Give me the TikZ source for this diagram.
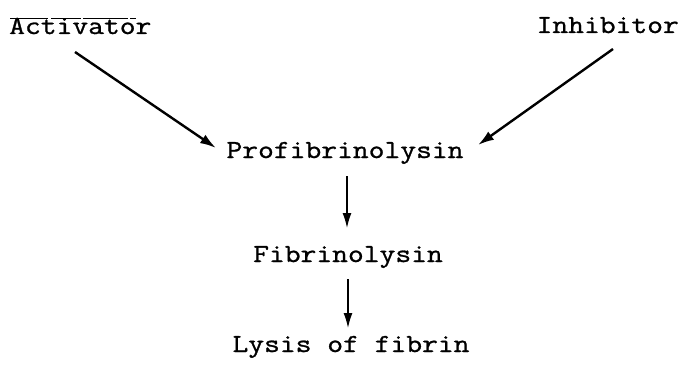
\documentclass[tikz,border=0pt]{standalone}
\usepackage{fontspec}
\setmonofont[FakeStretch=1.18,FakeBold=1]{Latin Modern Mono}
\usetikzlibrary{arrows.meta}
\begin{document}
\begin{tikzpicture}[x=1pt,y=1pt,
  lbl/.style={font=\ttfamily\fontsize{26}{28}\selectfont, inner sep=0pt},
  diag/.style={line width=2.4pt, -{Latex[length=16pt,width=10pt]}},
  vert/.style={line width=1.4pt, -{Latex[length=15pt,width=9pt]}}]
\useasboundingbox (0,0) rectangle (685,365);
\node[lbl, anchor=base west] (act) at (9,331) {Activator};
\node[lbl, anchor=base east] (inh) at (679,332) {Inhibitor};
\node[lbl, anchor=base] (pro) at (345,207) {Profibrinolysin};
\node[lbl, anchor=base] (fib) at (348,103) {Fibrinolysin};
\node[lbl, anchor=base] (lys) at (351,13) {Lysis of fibrin};
\draw[line width=0.8pt, dash pattern=on 38pt off 3pt on 30pt off 2pt on 45pt off 2pt] (10,347) -- (136,347);
\coordinate (a1s) at (75,313);
\coordinate (a1e) at (216,217);
\coordinate (a2s) at (613,316);
\coordinate (a2e) at (478,220);
\coordinate (a3s) at (347,189);
\coordinate (a3e) at (347,137);
\coordinate (a4s) at (348,86);
\coordinate (a4e) at (348,37);
\draw[diag] (a1s) -- (a1e);
\draw[diag] (a2s) -- (a2e);
\draw[vert] (a3s) -- (a3e);
\draw[vert] (a4s) -- (a4e);
\end{tikzpicture}
\end{document}
